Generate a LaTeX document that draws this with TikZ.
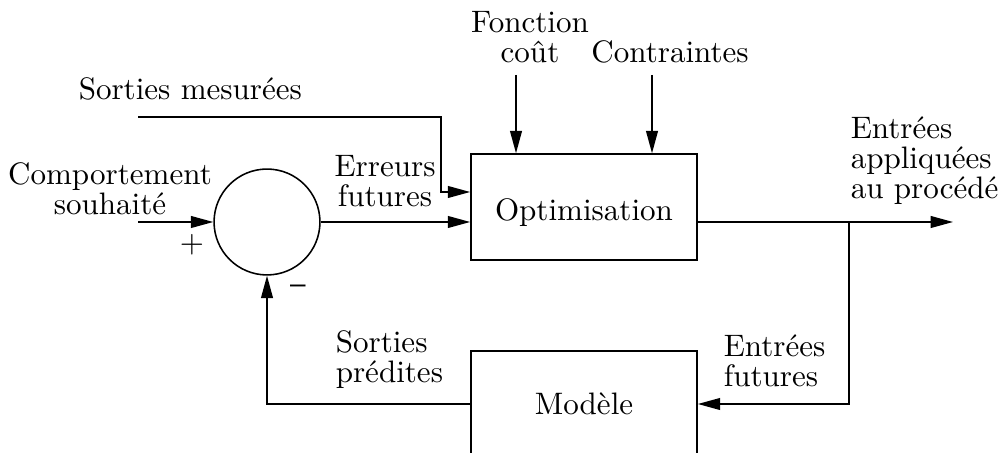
\documentclass[tikz,border=0pt]{standalone}
\usepackage{tikz}
\usetikzlibrary{arrows.meta,shapes}
\tikzstyle{bloc}=[draw,rectangle,minimum width=72.8pt,minimum height=34.1pt,inner sep=0pt]
\tikzstyle{somme}=[draw,circle,minimum size=34.1pt,inner sep=0pt]
\tikzstyle{etiquette}=[align=center,inner sep=0pt,font=\fontsize{10}{9.7}\selectfont]
\tikzstyle{signe}=[inner sep=0pt,font=\sffamily]
\tikzstyle{fleche}=[draw,-{Triangle[length=7.2pt,width=3.8pt]}]

\begin{document}
\begin{tikzpicture}[x=0.322pt,y=-0.322pt,line width=0.5pt]
    \useasboundingbox (0,0) rectangle (1000,453);
    % Les blocs
    \node[somme] (sum) at (267,222) {};
    \node[bloc,text height=9pt,text depth=0pt] (opt) at (584,207) {Optimisation};
    \node[bloc] (mod) at (584,404) {Modèle};
    % Les textes
    \node[etiquette] (fonc) at (530,37) {Fonction\\coût};
    \node[etiquette,anchor=base] (contr) at (670,63) {Contraintes};
    \node[etiquette,anchor=base west] (smes) at (78,100) {Sorties mesurées};
    \node[etiquette] (comp) at (110,189) {Comportement\\souhaité};
    \node[etiquette] (err) at (385,181) {Erreurs\\futures};
    \node[etiquette,anchor=west,align=left] (eapp) at (850,161) {Entrées\\appliquées\\au procédé};
    \node[etiquette,anchor=west,align=left] (spred) at (335,360) {Sorties\\prédites};
    \node[etiquette,anchor=west,align=left] (efut) at (723,361) {Entrées\\futures};
    \node[signe] (plus) at (192,245) {+};
    \node[signe] (moins) at (298,290) {--};
    % Les points de depart
    \coordinate (ecomp) at (138,222);
    \coordinate (emes) at (138,117);
    \coordinate (coude) at (441,192);
    \coordinate (sortie) at (953,222);
    \coordinate (branche) at (849,222);
    % Les fleches
    \foreach \i/\x in {1/516,2/652} {
        \coordinate (haut\i) at (\x,75);
        \draw[fleche] (haut\i) -- (haut\i |- opt.north);
    }
    \draw[fleche] (ecomp) -- (sum.west);
    \draw[fleche] (sum.east) -- (sum.east -| opt.west);
    \draw[fleche] (emes) -| (coude) -- (coude -| opt.west);
    \draw[fleche] (sortie -| opt.east) -- (sortie);
    \draw[fleche] (branche) |- (mod.east);
    \draw[fleche] (mod.west) -| (sum.south);
\end{tikzpicture}
\end{document}
